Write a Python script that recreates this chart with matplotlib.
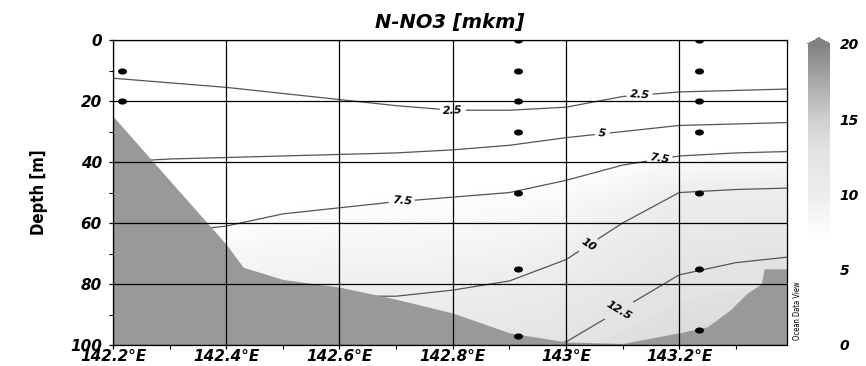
import numpy as np
import matplotlib.pyplot as plt
import matplotlib.tri as mtri
from matplotlib.colors import LinearSegmentedColormap
from matplotlib.markers import MarkerStyle
from matplotlib.transforms import Affine2D
from matplotlib.ticker import MultipleLocator

# ------------------------------------------
# Section data
# ------------------------------------------
# longitude of each section column
lons = [142.2, 142.3, 142.4, 142.5, 142.6, 142.7, 142.8, 142.9, 143.0, 143.1, 143.2, 143.3, 143.4]

# N-NO3 at the surface and at 100 m
surf_no3 = [1.0, 1.0, 1.0, 1.0, 1.0, 1.0, 1.0, 1.0, 1.0, 1.0, 1.0, 1.0, 1.0]
bottom_no3 = [10.8, 11.1, 11.4, 11.5, 11.6, 11.6, 11.8, 12.3, 12.6, 13.3, 13.8, 14.0, 14.1]

# depth [m] where each isoline crosses the column (nan = not reached)
nan = np.nan
depth_2_5 = [12.5, 14, 15.5, 17.5, 19.5, 21.5, 23, 23, 22, 18.5, 17, 16.5, 16]
depth_5 = [40, 39, 38.5, 38, 37.5, 37, 36, 34.5, 32, 30, 28, 27.5, 27]
depth_7_5 = [66, 63, 61, 57, 55, 53, 51.5, 50, 46, 41, 38, 37, 36.5]
depth_10 = [92, 89, 86, 85, 84, 84, 82, 79, 72, 60, 50, 49, 48.5]
depth_12_5 = [nan, nan, nan, nan, nan, nan, nan, nan, 99, 88, 77, 73, 71]

# bottom profile
sea_lon = [142.2, 142.4, 142.43, 142.5, 142.6, 142.7, 142.8, 142.9, 143.0, 143.1,
           143.2, 143.25, 143.29, 143.32, 143.345, 143.35, 143.4]
sea_depth = [25, 67, 74.5, 78.5, 81, 85, 89.5, 96, 99, 99.5,
             96, 94, 88.5, 83, 80, 75, 75]

# sample positions (stations)
st1_lon, st1_depth = 142.215, [10, 20]
st2_lon, st2_depth = 142.915, [0, 10, 20, 30, 50, 75, 97]
st3_lon, st3_depth = 143.235, [0, 10, 20, 30, 50, 75, 95]

xtick_vals = [142.2, 142.4, 142.6, 142.8, 143.0, 143.2]
xtick_labels = ["142.2°E", "142.4°E", "142.6°E", "142.8°E", "143°E", "143.2°E"]
ytick_vals = [0, 20, 40, 60, 80, 100]
cbar_ticks = [0, 5, 10, 15, 20]

# ------------------------------------------
# Scattered points -> triangulation
# ------------------------------------------
isolines = {2.5: depth_2_5, 5: depth_5, 7.5: depth_7_5, 10: depth_10, 12.5: depth_12_5}
xs, ys, zs = [], [], []
for i, lon in enumerate(lons):
    xs.append(lon); ys.append(0.0); zs.append(surf_no3[i])
    for lev, dep in isolines.items():
        if not np.isnan(dep[i]):
            xs.append(lon); ys.append(dep[i]); zs.append(lev)
    xs.append(lon); ys.append(100.0); zs.append(bottom_no3[i])
xs, ys, zs = np.array(xs), np.array(ys), np.array(zs)

# triangles built in scaled space so columns connect to their neighbours
tri_scaled = mtri.Triangulation(xs * 300, ys)
tri = mtri.Triangulation(xs, ys, tri_scaled.triangles)

cmap = LinearSegmentedColormap.from_list(
    "odv_grey", [(0, "white"), (0.36, "white"), (0.5, "#ededed"),
                 (0.65, "#e2e2e2"), (0.75, "#d0d0d0"), (1.0, "#828282")])

bi = dict(fontweight="bold", fontstyle="italic", family="DejaVu Sans")
narrow = ["Liberation Sans Narrow", "DejaVu Sans"]

# ------------------------------------------
# Figure
# ------------------------------------------
fig = plt.figure(figsize=(8.66, 3.66), dpi=100)
ax = fig.add_axes([0.1305, 0.0574, 0.778, 0.833])

cf = ax.tricontourf(tri, zs, levels=np.linspace(0, 20, 81), cmap=cmap,
                    extend="max", zorder=0.5)
cs = ax.tricontour(tri, zs, levels=[2.5, 5, 7.5, 10, 12.5], colors="#555555",
                   linewidths=0.9, zorder=1)
labels = ax.clabel(cs, fmt="%g", fontsize=8, inline=True, inline_spacing=4,
                   manual=[(142.80, 23), (143.13, 18), (143.065, 32),
                           (142.71, 53), (143.165, 38.5), (143.035, 66),
                           (143.085, 86)])
for t in labels:
    t.set_fontweight("bold")
    t.set_fontstyle("italic")
    t.set_color("black")

# bottom
ax.fill_between(sea_lon, sea_depth, 100, color="#999999", lw=0, zorder=2)

# samples
dot = MarkerStyle("o", transform=Affine2D().scale(1.6, 1.0))
for lon, deps in [(st1_lon, st1_depth), (st2_lon, st2_depth), (st3_lon, st3_depth)]:
    ax.plot([lon] * len(deps), deps, ls="none", marker=dot, ms=3.4,
            color="black", zorder=3)

ax.set_xlim(142.2, 143.39)
ax.set_ylim(100, 0)
ax.set_axisbelow(False)
ax.grid(True, which="major", color="black", lw=0.9)

ax.set_xticks(xtick_vals, labels=xtick_labels, fontsize=11, **bi)
ax.set_yticks(ytick_vals, labels=[str(v) for v in ytick_vals], fontsize=11, **bi)
ax.xaxis.set_minor_locator(MultipleLocator(0.1))
ax.yaxis.set_minor_locator(MultipleLocator(10))
ax.tick_params(axis="both", which="major", direction="out", length=3, width=0.9)
ax.tick_params(axis="both", which="minor", direction="out", length=3, width=0.8)
ax.tick_params(axis="x", pad=0)
ax.tick_params(axis="y", pad=5)
for s in ax.spines.values():
    s.set_linewidth(0.9)

ax.set_title("N-NO3 [mkm]", fontsize=14, pad=9, **bi)
ax.set_ylabel("Depth [m]", fontsize=12, fontweight="bold", fontstretch="condensed",
              family=narrow, labelpad=16)

# colour bar
cax = fig.add_axes([0.933, 0.0574, 0.0254, 0.839])
cb = fig.colorbar(cf, cax=cax, extend="max", extendfrac=0.02)
cb.outline.set_visible(False)
cb.set_ticks(cbar_ticks)
cb.ax.set_yticklabels([str(v) for v in cbar_ticks], fontsize=10, **bi)
cb.ax.tick_params(length=0, pad=7)

fig.text(0.921, 0.15, "Ocean Data View", rotation=90, fontsize=5.5,
         fontstretch="condensed", family=narrow, ha="center", va="center")

fig.savefig("out.png", dpi=100)
